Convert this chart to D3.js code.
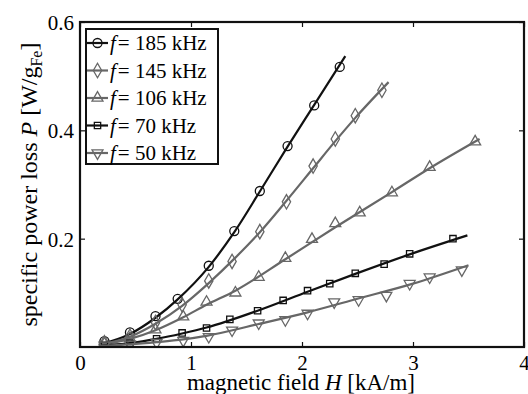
<!DOCTYPE html>
<html><head><meta charset="utf-8">
<script src="https://cdn.jsdelivr.net/npm/d3@7/dist/d3.min.js"></script>
<style>body{margin:0;background:#fff}svg{display:block}text{font-family:"Liberation Serif","Times New Roman",serif;fill:#000}</style>
</head><body><svg id="c" width="528" height="394"></svg>
<script>
// ---- data ----
const legendLabels = ["185 kHz", "145 kHz", "106 kHz", "70 kHz", "50 kHz"];
const xTicks = [0, 1, 2, 3, 4];
const yTicks = [0.2, 0.4, 0.6];

const markH185 = [0.22,0.45,0.68,0.88,1.16,1.39,1.62,1.87,2.11,2.34];
const markP185 = [0.011,0.027,0.057,0.089,0.150,0.214,0.288,0.371,0.446,0.517];
const fitH185  = [0.17,0.45,0.68,0.88,1.16,1.39,1.62,1.87,2.11,2.39];
const fitP185  = [0.004,0.024,0.054,0.088,0.148,0.212,0.287,0.370,0.447,0.537];

const markH145 = [0.22,0.45,0.68,0.92,1.16,1.37,1.62,1.86,2.10,2.30,2.48,2.72];
const markP145 = [0.008,0.020,0.045,0.078,0.122,0.158,0.213,0.268,0.334,0.384,0.427,0.474];
const fitH145  = [0.17,0.45,0.68,0.92,1.16,1.40,1.62,1.86,2.10,2.30,2.48,2.78];
const fitP145  = [0.004,0.019,0.043,0.076,0.118,0.165,0.212,0.270,0.330,0.380,0.423,0.489];

const markH106 = [0.22,0.45,0.68,0.93,1.14,1.40,1.61,1.85,2.09,2.30,2.52,2.81,3.15,3.56];
const markP106 = [0.006,0.016,0.032,0.056,0.083,0.100,0.129,0.164,0.199,0.228,0.248,0.285,0.332,0.379];
const fitH106  = [0.17,0.45,0.68,0.93,1.14,1.40,1.85,2.30,2.81,3.15,3.60];
const fitP106  = [0.004,0.015,0.031,0.055,0.078,0.104,0.162,0.221,0.286,0.330,0.384];

const markH70 = [0.22,0.45,0.69,0.92,1.14,1.35,1.60,1.83,2.05,2.25,2.48,2.74,2.97,3.36];
const markP70 = [0.003,0.007,0.015,0.026,0.035,0.051,0.067,0.086,0.104,0.117,0.136,0.153,0.172,0.200];
const fitH70  = [0.17,0.45,0.69,0.92,1.14,1.60,2.05,2.48,2.97,3.49];
const fitP70  = [0.002,0.007,0.015,0.025,0.036,0.067,0.102,0.135,0.171,0.206];

const markH50 = [0.22,0.45,0.69,0.93,1.16,1.37,1.61,1.85,2.05,2.29,2.51,2.76,2.97,3.15,3.44];
const markP50 = [0.003,0.005,0.008,0.012,0.019,0.031,0.044,0.050,0.062,0.083,0.087,0.095,0.117,0.129,0.142];
const fitH50  = [0.17,0.45,0.69,0.93,1.15,1.60,2.05,2.50,3.00,3.50];
const fitP50  = [0.002,0.005,0.009,0.014,0.021,0.042,0.064,0.089,0.117,0.151];

// ---- styling / assembly ----
const BLACK = "#111", GRAY = "#676767";
const series = [
  {label: legendLabels[0], mh: markH185, mp: markP185, fh: fitH185, fp: fitP185, color: BLACK, sym: "circle"},
  {label: legendLabels[1], mh: markH145, mp: markP145, fh: fitH145, fp: fitP145, color: GRAY,  sym: "diamond"},
  {label: legendLabels[2], mh: markH106, mp: markP106, fh: fitH106, fp: fitP106, color: GRAY,  sym: "tri"},
  {label: legendLabels[3], mh: markH70,  mp: markP70,  fh: fitH70,  fp: fitP70,  color: BLACK, sym: "square"},
  {label: legendLabels[4], mh: markH50,  mp: markP50,  fh: fitH50,  fp: fitP50,  color: GRAY,  sym: "tridown"}
];

const svg = d3.select("#c");
const L = 80, R = 524, T = 22, B = 347;
const x = d3.scaleLinear().domain([0, 4]).range([L, R]);
const y = d3.scaleLinear().domain([0, 0.6]).range([B, T]);

svg.append("defs").append("clipPath").attr("id", "clip")
  .append("rect").attr("x", L).attr("y", T).attr("width", R - L).attr("height", B - T);

function symPath(sym) {
  switch (sym) {
    case "circle": return d3.symbol(d3.symbolCircle, 64)();
    case "diamond": return d3.symbol(d3.symbolDiamond, 60)();
    case "tri": return d3.symbol(d3.symbolTriangle, 52)();
    case "tridown": return d3.symbol(d3.symbolTriangle, 52)();
    case "square": return d3.symbol(d3.symbolSquare, 40)();
  }
}
function symTransform(sym, px, py) {
  return sym === "tridown" ? `translate(${px},${py}) rotate(180)` : `translate(${px},${py})`;
}

const plot = svg.append("g").attr("clip-path", "url(#clip)");
const line = d3.line().x(d => x(d[0])).y(d => y(d[1])).curve(d3.curveMonotoneX);

series.forEach(s => {
  const pts = s.fh.map((h, i) => [h, s.fp[i]]);
  plot.append("path").attr("d", line(pts)).attr("fill", "none")
    .attr("stroke", s.color).attr("stroke-width", 2.2);
  const mk = s.mh.map((h, i) => [h, s.mp[i]]);
  plot.selectAll(null).data(mk).enter().append("path")
    .attr("d", symPath(s.sym))
    .attr("transform", d => symTransform(s.sym, x(d[0]), y(d[1])))
    .attr("fill", "none").attr("stroke", s.color).attr("stroke-width", 1.3);
});

// axes frame and ticks
const ax = svg.append("g");
ax.append("rect").attr("x", L).attr("y", T).attr("width", R - L).attr("height", B - T)
  .attr("fill", "none").attr("stroke", BLACK).attr("stroke-width", 2.2);

const xAxisB = d3.axisBottom(x).tickValues(xTicks).tickSize(-5).tickPadding(8).tickFormat(d3.format("d"));
const gxb = ax.append("g").attr("transform", `translate(0,${B})`).call(xAxisB);
const xAxisT = d3.axisTop(x).tickValues(xTicks).tickSize(-5).tickFormat("");
const gxt = ax.append("g").attr("transform", `translate(0,${T})`).call(xAxisT);
const yAxisL = d3.axisLeft(y).tickValues(yTicks).tickSize(-5).tickPadding(6).tickFormat(d3.format(".1f"));
const gyl = ax.append("g").attr("transform", `translate(${L},0)`).call(yAxisL);
const yAxisR = d3.axisRight(y).tickValues(yTicks).tickSize(-5).tickFormat("");
const gyr = ax.append("g").attr("transform", `translate(${R},0)`).call(yAxisR);
[gxb, gxt, gyl, gyr].forEach(g => {
  g.attr("font-family", null);
  g.select(".domain").remove();
  g.selectAll(".tick line").attr("stroke", BLACK).attr("stroke-width", 1.2);
  g.selectAll("text").style("font-family", "'Liberation Serif', serif").style("font-size", "21px").attr("fill", "#000");
});
gxb.selectAll("text").attr("dy", "0.71em");
gyl.selectAll("text").attr("dy", "0.35em");

// axis labels
const xl = svg.append("text").attr("x", 301).attr("y", 390).attr("text-anchor", "middle").style("font-size", "23px");
xl.append("tspan").text("magnetic field ");
xl.append("tspan").style("font-style", "italic").text("H");
xl.append("tspan").text(" [kA/m]");

const yl = svg.append("text").attr("transform", `translate(37,${(T + B) / 2}) rotate(-90)`)
  .attr("text-anchor", "middle").style("font-size", "24px");
yl.append("tspan").text("specific power loss ");
yl.append("tspan").style("font-style", "italic").text("P");
yl.append("tspan").text(" [W/g");
yl.append("tspan").attr("dy", 5).style("font-size", "16px").text("Fe");
yl.append("tspan").attr("dy", -5).text("]");

// legend
const lg = svg.append("g");
lg.append("rect").attr("x", 86).attr("y", 29).attr("width", 132).attr("height", 135)
  .attr("fill", "#fff").attr("stroke", BLACK).attr("stroke-width", 2);
series.forEach((s, i) => {
  const cy = 43 + i * 27.5;
  lg.append("line").attr("x1", 87).attr("x2", 108).attr("y1", cy).attr("y2", cy)
    .attr("stroke", s.color).attr("stroke-width", 2.2);
  lg.append("path").attr("d", symPath(s.sym)).attr("transform", symTransform(s.sym, 97.5, cy))
    .attr("fill", "none").attr("stroke", s.color).attr("stroke-width", 1.3);
  const t = lg.append("text").attr("x", 110).attr("y", cy + 7).style("font-size", "21px");
  t.append("tspan").style("font-style", "italic").text("f");
  t.append("tspan").attr("dx", 2).text("= " + s.label);
});
</script></body></html>
